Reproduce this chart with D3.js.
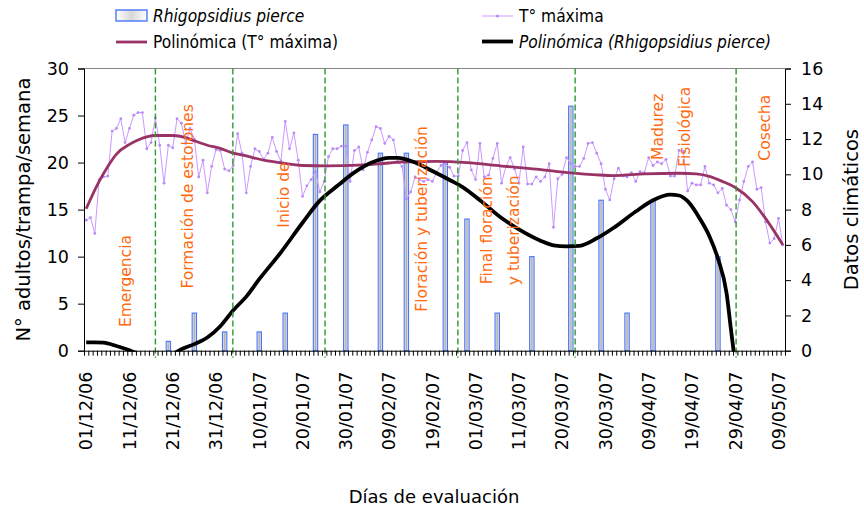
<!DOCTYPE html>
<html>
<head>
<meta charset="utf-8">
<script src="https://cdn.jsdelivr.net/npm/d3@7/dist/d3.min.js"></script>
<style>
  html, body { margin: 0; padding: 0; background: #fff; }
  svg { display: block; }
  text { font-family: "DejaVu Sans", Verdana, sans-serif; }
</style>
</head>
<body>
<svg id="chart" width="864" height="514"></svg>
<script>
// ---------------- DATA ----------------
const dayCount = 162; // daily categories from 01/12/06
const tickDays = [0, 10, 20, 30, 40, 50, 60, 70, 80, 90, 100, 110, 120, 130, 140, 150, 160];
const tickLabels = ["01/12/06", "11/12/06", "21/12/06", "31/12/06", "10/01/07", "20/01/07",
  "30/01/07", "09/02/07", "19/02/07", "01/03/07", "11/03/07", "20/03/07", "30/03/07",
  "09/04/07", "19/04/07", "29/04/07", "09/05/07"];

// Daily maximum temperature (right axis)
const tempMax = [
  7.4, 7.55, 6.65, 9.7, 9.85, 9.9, 12.45, 12.6, 13.15, 11.8,
  12.6, 13.35, 13.5, 13.5, 11.45, 11.8, 13.2, 11.65, 9.5, 11.65,
  11.5, 13.15, 12.9, 11.75, 12.6, 12.0, 9.85, 10.8, 8.95, 10.45,
  11.4, 11.35, 10.3, 10.2, 10.5, 12.3, 11.2, 8.95, 10.45, 11.45,
  11.3, 10.85, 11.2, 12.1, 11.3, 10.75, 13.0, 11.45, 12.35, 10.8,
  8.75, 9.35, 9.7, 10.15, 9.0, 9.6, 11.0, 11.45, 11.45, 11.6,
  11.6, 9.6, 11.35, 11.55, 10.25, 11.25, 11.95, 12.7, 12.6, 11.75,
  12.15, 11.95, 10.7, 10.45, 8.6, 9.0, 9.85, 9.7, 9.6, 9.7,
  9.6, 10.1, 10.5, 10.6, 10.4, 9.9, 9.9, 11.35, 11.8, 10.25,
  9.7, 11.75, 9.85, 9.95, 10.9, 11.75, 9.5, 10.45, 10.95, 10.3,
  9.5, 11.55, 9.45, 9.45, 9.85, 9.6, 9.85, 10.6, 7.0, 9.75,
  10.0, 10.95, 10.6, 10.45, 10.45, 10.9, 11.75, 11.8, 11.2, 10.6,
  9.15, 8.55, 9.75, 10.35, 9.9, 9.85, 10.1, 9.6, 10.15, 10.1,
  10.95, 10.5, 10.7, 10.6, 10.85, 9.9, 9.9, 11.35, 11.3, 9.05,
  9.5, 9.4, 9.4, 10.45, 9.5, 9.4, 8.95, 9.2, 8.25, 8.0,
  7.3, 8.55, 9.6, 10.45, 10.7, 9.15, 9.25, 7.3, 6.1, 6.35,
  7.5, 6.0
];

// Rhigopsidius pierce captures (left axis)
const barDays   = [19, 25, 32, 40, 46, 53, 60, 68, 74, 83, 88, 95, 103, 112, 119, 125, 131, 146];
const barCounts = [1, 4, 2, 2, 4, 23, 24, 21, 21, 20, 14, 4, 10, 26, 16, 4, 16, 10];

// Polynomial trend of T° máxima (right axis)
const trendTempDays = [0, 3, 5, 7, 10, 12, 14, 16, 20, 23, 25, 28, 31, 34, 37, 41, 45, 50, 56,
  63, 68, 73, 81, 88, 96, 104, 112, 118, 122, 129, 137, 141, 144, 147, 150, 154, 157, 161];
const trendTempValues = [8.05, 9.6, 10.45, 11.15, 11.7, 11.95, 12.12, 12.2, 12.2, 12.08, 11.9,
  11.65, 11.47, 11.2, 11.04, 10.8, 10.65, 10.5, 10.48, 10.52, 10.6, 10.7, 10.73, 10.66, 10.47,
  10.3, 10.08, 9.97, 9.93, 10.02, 10.06, 10.02, 9.88, 9.6, 9.25, 8.45, 7.5, 6.0];

// Polynomial trend of Rhigopsidius pierce (left axis)
const trendPestDays = [0, 2, 4, 7, 10, 13, 16, 19, 22, 25, 28, 31, 34, 37, 40, 45, 50, 54, 58,
  62, 66, 70, 72, 76, 80, 84, 87, 91, 96, 100, 105, 108, 111, 114, 118, 122, 127, 131, 135,
  137, 139, 142, 144, 146, 148, 149, 150, 151];
const trendPestValues = [0.88, 0.88, 0.85, 0.5, 0.05, -0.5, -0.8, -0.6, 0.15, 0.7, 1.4, 2.6,
  4.3, 5.75, 7.6, 10.45, 13.6, 15.95, 17.5, 18.95, 20.0, 20.5, 20.5, 20.0, 19.1, 18.15, 17.4,
  16.0, 14.1, 12.9, 11.7, 11.2, 11.1, 11.15, 11.95, 13.1, 14.8, 16.0, 16.6, 16.5, 15.9, 13.9,
  12.2, 9.8, 6.1, 2.3, -1.5, -6];

// Crop phases
const phaseBoundaries = [16.5, 34.4, 55.7, 86.4, 113.5, 150.7];
const phaseLabels = [["Emergencia"], ["Formación de estolones"], ["Inicio de"],
  ["Floración y tuberización"], ["Final floración", "y tuberización"],
  ["Madurez", "Fisiológica"], ["Cosecha"]];

const legendLabels = ["Rhigopsidius pierce", "T° máxima", "Polinómica (T° máxima)",
  "Polinómica (Rhigopsidius pierce)"];
const axisTitles = ["N° adultos/trampa/semana", "Datos climáticos", "Días de evaluación"];

// ---------------- LAYOUT ----------------
const L = 84, R = 785, T = 68.5, B = 350.7;
// label anchor positions (day index, left-axis value) for phase texts
const phaseLabelPos = [[9.5, 7.4], [24.0, 16.4], [46.0, 16.55], [77.9, 14.0], [96, 12.8], [135.6, 23.8], [157.3, 23.7]];
const phaseLineGap = 27;

const svg = d3.select("#chart");
const x = d3.scaleLinear().domain([0, dayCount]).range([L, R]);
const yL = d3.scaleLinear().domain([0, 30]).range([B, T]);
const yR = d3.scaleLinear().domain([0, 16]).range([B, T]);
const cx = i => x(i + 0.5);

// defs
const defs = svg.append("defs");
const grad = defs.append("linearGradient").attr("id", "barGrad").attr("x1", "0").attr("x2", "1").attr("y1", "0").attr("y2", "0");
grad.append("stop").attr("offset", "0%").attr("stop-color", "#f4f4f4");
grad.append("stop").attr("offset", "50%").attr("stop-color", "#b0b0b0");
grad.append("stop").attr("offset", "100%").attr("stop-color", "#f4f4f4");
const gradL = defs.append("linearGradient").attr("id", "legGrad").attr("x1", "0").attr("x2", "1").attr("y1", "0").attr("y2", "0");
gradL.append("stop").attr("offset", "0%").attr("stop-color", "#ffffff");
gradL.append("stop").attr("offset", "50%").attr("stop-color", "#d8d8d8");
gradL.append("stop").attr("offset", "100%").attr("stop-color", "#ffffff");
defs.append("clipPath").attr("id", "plotClip").append("rect")
  .attr("x", L).attr("y", T).attr("width", R - L).attr("height", B - T + 1);

// plot top border
svg.append("line").attr("x1", L).attr("x2", R).attr("y1", T).attr("y2", T)
  .attr("stroke", "#888").attr("stroke-width", 1);

// bars
svg.append("g").selectAll("rect").data(barDays).join("rect")
  .attr("x", (d, i) => cx(d) - 2.2)
  .attr("width", 4.4)
  .attr("y", (d, i) => yL(barCounts[i]))
  .attr("height", (d, i) => B - yL(barCounts[i]))
  .attr("fill", "url(#barGrad)")
  .attr("stroke", "#3b6cff").attr("stroke-width", 1);

// temperature line
const tempLine = d3.line().x((d, i) => cx(i)).y(d => yR(d));
svg.append("path").datum(tempMax).attr("d", tempLine)
  .attr("fill", "none").attr("stroke", "#cc99ff").attr("stroke-width", 1);
svg.append("g").selectAll("circle").data(tempMax).join("circle")
  .attr("cx", (d, i) => cx(i)).attr("cy", d => yR(d)).attr("r", 1.4)
  .attr("fill", "#b98af5");

// trend: temperature
const tLine = d3.line().curve(d3.curveMonotoneX).x((d, i) => cx(trendTempDays[i])).y(d => yR(d));
svg.append("path").datum(trendTempValues).attr("d", tLine)
  .attr("fill", "none").attr("stroke", "#993366").attr("stroke-width", 2.8);

// trend: pest
const pLine = d3.line().curve(d3.curveMonotoneX).x((d, i) => cx(trendPestDays[i])).y(d => yL(d));
svg.append("path").datum(trendPestValues).attr("d", pLine)
  .attr("clip-path", "url(#plotClip)")
  .attr("fill", "none").attr("stroke", "#000").attr("stroke-width", 3.8)
  .attr("stroke-linejoin", "round");

// phase boundaries
svg.append("g").selectAll("line").data(phaseBoundaries).join("line")
  .attr("x1", d => x(d)).attr("x2", d => x(d))
  .attr("y1", T).attr("y2", B + 7)
  .attr("stroke", "#2e9a2e").attr("stroke-width", 1.4)
  .attr("stroke-dasharray", "6,3");

// phase labels
phaseLabels.forEach((lines, k) => {
  const [d, v] = phaseLabelPos[k];
  const n = lines.length;
  lines.forEach((t, j) => {
    const px = x(d) + (j - (n - 1) / 2) * phaseLineGap;
    const py = yL(v);
    svg.append("text").text(t)
      .attr("transform", `translate(${px},${py}) rotate(-90)`)
      .attr("text-anchor", "middle").attr("dy", "0.36em")
      .attr("font-size", "15.5px").attr("fill", "#ff6a10");
  });
});

// axes
const axL = svg.append("g").attr("transform", `translate(${L},0)`)
  .call(d3.axisLeft(yL).tickValues([0, 5, 10, 15, 20, 25, 30]).tickSize(6).tickPadding(9));
const axR = svg.append("g").attr("transform", `translate(${R},0)`)
  .call(d3.axisRight(yR).tickValues([0, 2, 4, 6, 8, 10, 12, 14, 16]).tickSize(6).tickPadding(10));
const axB = svg.append("g").attr("transform", `translate(0,${B})`)
  .call(d3.axisBottom(x).tickValues(d3.range(0, dayCount + 1)).tickSize(5).tickFormat(""));
[axL, axR, axB].forEach(a => {
  a.selectAll("path.domain").attr("stroke", "#000");
  a.selectAll(".tick line").attr("stroke", "#000");
  a.selectAll("text").attr("font-family", "DejaVu Sans, sans-serif").attr("font-size", "17.5px").attr("fill", "#000");
});
axB.select("path.domain").attr("d", `M${L},0.5H${R}`);

// x tick labels (rotated)
svg.append("g").selectAll("text").data(tickDays).join("text")
  .text((d, i) => tickLabels[i])
  .attr("transform", d => `translate(${cx(d)},${B + 21}) rotate(-90)`)
  .attr("text-anchor", "end").attr("dy", "0.36em")
  .attr("font-size", "17.5px").attr("fill", "#000");

// axis titles
svg.append("text").text(axisTitles[0])
  .attr("transform", `translate(23,${(T + B) / 2}) rotate(-90)`)
  .attr("text-anchor", "middle").attr("dy", "0.36em").attr("font-size", "19.5px");
svg.append("text").text(axisTitles[1])
  .attr("transform", `translate(851,${(T + B) / 2}) rotate(-90)`)
  .attr("text-anchor", "middle").attr("dy", "0.36em").attr("font-size", "19.5px");
svg.append("text").text(axisTitles[2])
  .attr("x", 434).attr("y", 503).attr("text-anchor", "middle").attr("font-size", "18px");

// legend
const lg = svg.append("g").attr("font-size", "17.2px").style("font-stretch", "condensed")
  .attr("font-family", "DejaVu Sans Condensed, DejaVu Sans, sans-serif");
lg.append("rect").attr("x", 116).attr("y", 10).attr("width", 31).attr("height", 11)
  .attr("fill", "url(#legGrad)").attr("stroke", "#3b6cff").attr("stroke-width", 1.3);
lg.append("text").text(legendLabels[0]).attr("x", 153).attr("y", 16).attr("dy", "0.36em").attr("font-style", "italic");
lg.append("line").attr("x1", 482).attr("x2", 513).attr("y1", 16).attr("y2", 16)
  .attr("stroke", "#cc99ff").attr("stroke-width", 1);
lg.append("circle").attr("cx", 497.5).attr("cy", 16).attr("r", 1.5).attr("fill", "#b98af5");
lg.append("text").text(legendLabels[1]).attr("x", 519).attr("y", 16).attr("dy", "0.36em");
lg.append("line").attr("x1", 116).attr("x2", 147).attr("y1", 42).attr("y2", 42)
  .attr("stroke", "#993366").attr("stroke-width", 2.8);
lg.append("text").text(legendLabels[2]).attr("x", 153).attr("y", 42).attr("dy", "0.36em");
lg.append("line").attr("x1", 482).attr("x2", 513).attr("y1", 41.5).attr("y2", 41.5)
  .attr("stroke", "#000").attr("stroke-width", 3.8);
lg.append("text").text(legendLabels[3]).attr("x", 519).attr("y", 42).attr("dy", "0.36em").attr("font-style", "italic");
</script>
</body>
</html>
